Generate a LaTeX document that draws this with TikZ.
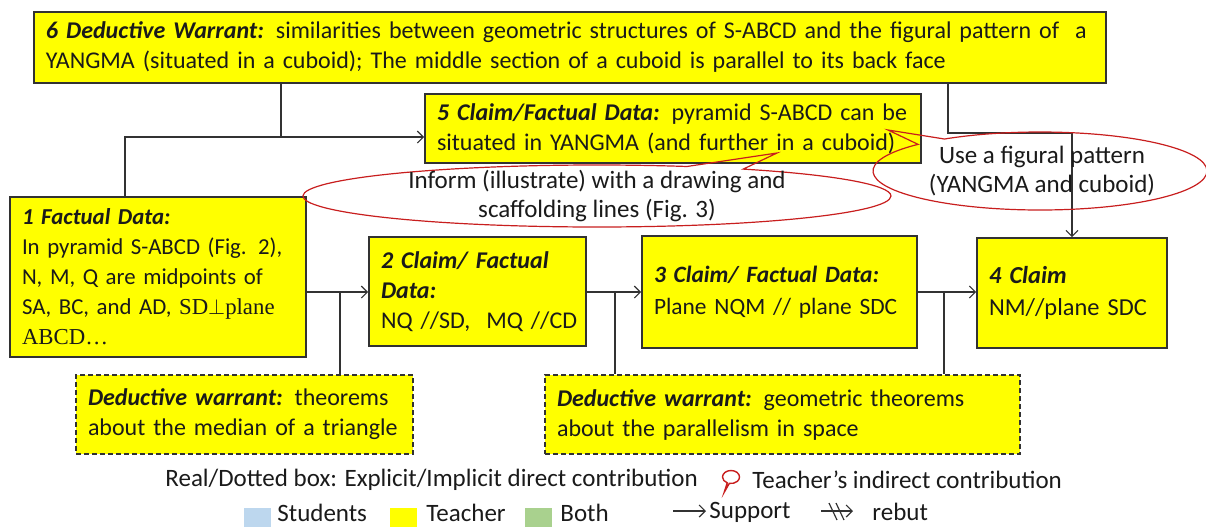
\documentclass[tikz,border=0pt]{standalone}
\usepackage{fontspec}
\setmainfont{Carlito}
\newfontfamily\tnr{Liberation Serif}
\usetikzlibrary{arrows.meta,shapes.callouts}
\definecolor{boxyellow}{RGB}{255,255,0}
\definecolor{txt}{RGB}{26,26,26}
\definecolor{edge}{RGB}{50,50,50}
\definecolor{callred}{RGB}{200,30,30}
\definecolor{stublue}{RGB}{189,215,238}
\definecolor{bothgreen}{RGB}{169,209,142}
\newcommand\bfit[1]{\textbf{\textit{#1}}}
\begin{document}
\begin{tikzpicture}[x=0.5pt,y=-0.5pt, font=\fontsize{12}{15}\selectfont, text=txt,
 box/.style={draw=edge, line width=0.8pt, fill=boxyellow, inner xsep=6pt, inner ysep=0pt, align=left, anchor=center},
 wbox/.style={box, dash pattern=on 2.5pt off 1.5pt},
 conn/.style={draw=edge, line width=0.6pt},
 arr/.style={conn, -{Straight Barb[length=3pt,width=6pt]}},
 callo/.style={ellipse callout, draw=callred, line width=0.6pt, inner sep=0pt, callout pointer arc=12},
 bigtext/.style={font=\fontsize{12.5}{14.5}\selectfont},
 legtext/.style={anchor=west, inner sep=0pt, bigtext},
 swatch/.style={minimum width=13.5pt, minimum height=10pt, inner sep=0pt, anchor=north west}]
\useasboundingbox (0,0) rectangle (1206,526);

% boxes
\node[box, minimum width=536pt, minimum height=35.5pt, text width=524pt] (b6) at (570,47.5)
 {\bfit{6 Deductive Warrant:} similarities between geometric structures of S-ABCD and the figural pattern of~ a\\
  YANGMA (situated in a cuboid); The middle section of a cuboid is parallel to its back face};
\node[box, minimum width=248pt, minimum height=34.5pt, text width=236pt] (b5) at (673,128.5)
 {\bfit{5 Claim/Factual Data:} pyramid S-ABCD can be\\ situated in YANGMA (and further in a cuboid)};
\node[box, minimum width=148pt, minimum height=80pt, text width=136pt, font=\fontsize{11.4}{15}\selectfont] (b1) at (158,277)
 {\bfit{1 Factual Data:}\\ In pyramid S-ABCD (Fig. 2),\\ N, M, Q are midpoints of\\ SA, BC, and AD, {\tnr SD$\perp$plane}\\ {\tnr ABCD…}};
\node[box, minimum width=108.5pt, minimum height=54.5pt, text width=96.5pt] (b2) at (477.5,291.5)
 {\bfit{2 Claim/ Factual}\\ \bfit{Data:}\\ \mbox{NQ //SD,~ MQ //CD}};
\node[box, minimum width=137.5pt, minimum height=56pt, text width=125.5pt, font=\fontsize{11.7}{16}\selectfont] (b3) at (779.5,292)
 {\bfit{3 Claim/ Factual Data:}\\ Plane NQM // plane SDC};
\node[box, minimum width=95pt, minimum height=55pt, text width=83pt, font=\fontsize{12.2}{16}\selectfont] (b4) at (1072,293)
 {\bfit{4 Claim}\\ NM//plane SDC};
\node[wbox, minimum width=168.5pt, minimum height=39.5pt, text width=156.5pt] (wa) at (244.5,414.5)
 {\bfit{Deductive warrant:} theorems\\ about the median of a triangle};
\node[wbox, minimum width=237.5pt, minimum height=39.5pt, text width=225.5pt] (wb) at (782.5,414.5)
 {\bfit{Deductive warrant:} geometric theorems\\ about the parallelism in space};

% connector coordinates
\coordinate (t1) at (125,137);
\coordinate (m6) at (281,137);
\coordinate (s6) at (948,133);
\coordinate (t4) at (1072,133);
\coordinate (r1) at (0,292);
\coordinate (ja) at (340,292);
\coordinate (jb) at (615,292);
\coordinate (jc) at (944,292);

\draw[conn] (b6.south -| m6) -- (m6);
\draw[arr] (b1.north -| t1) |- (b5.west |- t1);
\draw[arr] (b6.south -| s6) -- (s6) -- (t4) -- (b4.north);
\draw[arr] (b1.east |- r1) -- (b2.west |- r1);
\draw[arr] (b2.east |- r1) -- (b3.west |- r1);
\draw[arr] (b3.east |- r1) -- (b4.west |- r1);
\draw[conn] (ja) -- (wa.north -| ja);
\draw[conn] (jb) -- (wb.north -| jb);
\draw[conn] (jc) -- (wb.north -| jc);

% callouts
\node[callo, minimum width=294pt, minimum height=31pt, callout absolute pointer={(777,153)}] (c1) at (597,196) {};
\node[align=center, inner sep=0pt, bigtext] (c1t) at (c1.center) {Inform (illustrate) with a drawing and\\ scaffolding lines (Fig. 3)};
\node[callo, minimum width=167pt, minimum height=39pt, callout absolute pointer={(888,130)}] (c2) at (1040,171) {};
\node[align=center, inner sep=0pt, bigtext] (c2t) at (1042,171) {Use a figural pattern\\ (YANGMA and cuboid)};

% legend
\node[legtext] (l1) at (165,480) {Real/Dotted box: Explicit/Implicit direct contribution};
\node[ellipse callout, draw=callred, line width=0.7pt, minimum width=8.5pt, minimum height=6.5pt, inner sep=0pt,
  callout relative pointer={(-2pt,-4.5pt)}] (bub) at (731,477) {};
\node[legtext] (l2) at (752,480) {Teacher’s indirect contribution};

\node[swatch, fill=stublue] (sq1) at (244,508) {};
\node[legtext] (ls) at (277,513) {Students};
\node[swatch, fill=boxyellow] (sq2) at (390,508) {};
\node[legtext] (lt) at (426,513) {Teacher};
\node[swatch, fill=bothgreen] (sq3) at (525,508) {};
\node[legtext] (lb) at (560,513) {Both};

\coordinate (sa) at (673,511);
\coordinate (sb) at (706,511);
\draw[arr] (sa) -- (sb);
\node[legtext] (lsup) at (709,512) {Support};
\coordinate (ra) at (821,511);
\coordinate (rb) at (853,511);
\draw[arr] (ra) -- (rb);
\draw[conn] (829,503) -- (837,520);
\draw[conn] (836,503) -- (844,520);
\node[legtext] (lreb) at (872,512) {rebut};
\end{tikzpicture}
\end{document}
